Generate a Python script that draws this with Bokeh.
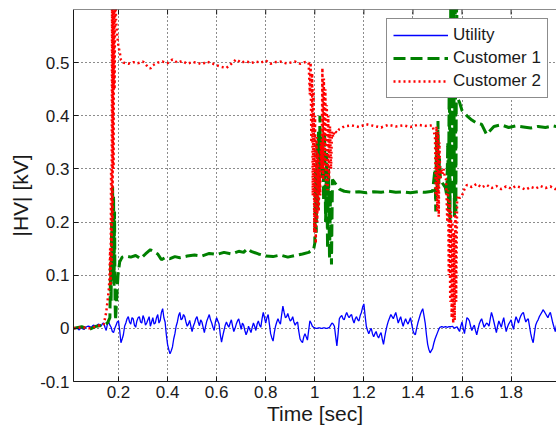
from bokeh.plotting import figure
from bokeh.models import Range1d, FixedTicker, Legend, LegendItem, Span
from bokeh.embed import file_html
from bokeh.resources import INLINE

# ---------------- data ----------------
x_ticks = [0.2, 0.4, 0.6, 0.8, 1.0, 1.2, 1.4, 1.6, 1.8]
y_ticks = [-0.1, 0.0, 0.1, 0.2, 0.3, 0.4, 0.5]
x_tick_labels = {0.2: "0.2", 0.4: "0.4", 0.6: "0.6", 0.8: "0.8", 1.0: "1",
                 1.2: "1.2", 1.4: "1.4", 1.6: "1.6", 1.8: "1.8"}
y_tick_labels = {-0.1: "-0.1", 0.0: "0", 0.1: "0.1", 0.2: "0.2", 0.3: "0.3",
                 0.4: "0.4", 0.5: "0.5"}
series_names = ["Utility", "Customer 1", "Customer 2"]

# Utility: samples on the hundredths of a second (0.02 ... 1.99 s)
utility_t0 = 0.02
utility_dt = 0.01
utility_v = [
    0.000, 0.002, -0.003, 0.001, -0.002, 0.003, 0.004, 0.002, 0.006, 0.004, 0.008, 0.005,
    0.010, -0.004, 0.012, 0.002, -0.008, 0.006, 0.014,
    -0.027, -0.012, 0.010, 0.022, 0.008, 0.018, 0.002, 0.020, 0.012, 0.024,
    0.006, 0.016, 0.004, 0.020, 0.010, 0.026, 0.015, 0.037, 0.012, -0.030,
    -0.048, -0.035, -0.010, 0.012, 0.030, 0.018, 0.022, 0.004, 0.015, -0.006,
    0.010, 0.022, 0.005, 0.012, -0.008, 0.014, 0.026, 0.010, -0.004, 0.020,
    0.008, -0.026, -0.004, 0.012, 0.002, 0.016, -0.006, 0.008, 0.018, -0.002,
    0.006, -0.012, 0.004, -0.008, 0.010, -0.004, 0.014, 0.002, 0.030, 0.010,
    0.026, -0.010, -0.024, 0.004, 0.018, 0.008, 0.042, 0.020, 0.028, 0.014,
    0.022, 0.006, 0.012, -0.020, -0.027, -0.010, -0.022, 0.014, 0.004, 0.001,
    0.000, 0.001, 0.000, 0.001, 0.000, 0.002, 0.010, 0.004, -0.033, 0.018,
    0.024, 0.016, 0.030, 0.020, 0.026, 0.010, 0.022, 0.014, 0.030, 0.046,
    0.004, -0.010, 0.000, -0.016, -0.006, -0.018, -0.008, -0.030, -0.004, 0.014,
    0.026, 0.018, 0.030, 0.010, 0.022, 0.004, 0.018, 0.008, 0.020, -0.004,
    -0.012, 0.010, 0.026, 0.037, 0.010, -0.030, -0.046, -0.038, -0.020, -0.008,
    0.002, 0.003, 0.003, 0.002, 0.003, 0.004, 0.000, 0.003, -0.006, 0.012,
    -0.010, 0.020, 0.014, -0.004, 0.006, -0.012, 0.008, 0.018, 0.002, 0.010,
    0.004, 0.030, 0.012, -0.008, 0.014, 0.002, 0.020, -0.006, 0.008, 0.016,
    -0.002, 0.022, 0.010, 0.024, 0.030, 0.012, 0.018, -0.010, -0.027, 0.006,
    0.016, 0.026, 0.035, 0.028, 0.020, 0.030, 0.010, -0.006, 0.018,
]
# Utility: samples half-way between those above (0.025 ... 1.985 s)
utility_v_mid = [
    0.001, -0.001, 0.000, -0.001, 0.001, 0.004, 0.003, 0.005, 0.003, 0.007, 0.004, 0.009,
    0.002, 0.008, 0.006, -0.006, 0.000, 0.012, -0.004,
    -0.020, 0.004, 0.018, 0.012, 0.020, 0.006, 0.014, 0.022, 0.010, 0.018,
    0.010, 0.022, 0.012, 0.008, 0.020, 0.010, 0.030, 0.020, -0.012, -0.040,
    -0.042, -0.020, 0.004, 0.024, 0.016, 0.026, 0.012, 0.008, 0.004, 0.004,
    0.018, 0.012, 0.016, 0.002, 0.004, 0.020, 0.016, 0.002, 0.012, 0.014,
    -0.012, -0.014, 0.006, 0.006, 0.010, 0.004, 0.000, 0.014, 0.008, 0.010,
    -0.004, -0.006, -0.002, 0.002, 0.004, 0.008, 0.006, 0.018, 0.020, 0.020,
    0.008, -0.018, -0.008, 0.012, 0.012, 0.026, 0.030, 0.022, 0.020, 0.016,
    0.012, 0.010, -0.006, -0.024, -0.016, -0.016, -0.004, 0.010, 0.002, 0.000,
    0.001, 0.000, 0.001, 0.000, 0.001, 0.006, 0.008, -0.015, -0.010, 0.022,
    0.018, 0.024, 0.024, 0.024, 0.016, 0.018, 0.016, 0.024, 0.040, 0.024,
    -0.004, -0.004, -0.010, -0.010, -0.014, -0.012, -0.020, -0.016, 0.006, 0.020,
    0.022, 0.024, 0.020, 0.016, 0.012, 0.012, 0.012, 0.014, 0.008, -0.010,
    0.000, 0.018, 0.032, 0.024, -0.012, -0.040, -0.042, -0.028, -0.014, -0.002,
    0.003, 0.002, 0.003, 0.003, 0.003, 0.002, 0.002, -0.002, 0.004, 0.000,
    0.006, 0.018, 0.004, 0.002, -0.004, -0.002, 0.014, 0.010, 0.006, 0.008,
    0.018, 0.022, 0.002, 0.004, 0.008, 0.012, 0.006, 0.002, 0.012, 0.006,
    0.012, 0.016, 0.018, 0.028, 0.020, 0.016, 0.004, -0.020, -0.010, 0.012,
    0.022, 0.030, 0.032, 0.024, 0.026, 0.020, 0.002, 0.006,
]

customer1_t = [
    0.017, 0.05, 0.08, 0.11, 0.14, 0.155, 0.165, 0.168, 0.170, 0.172, 0.174, 0.176,
    0.178, 0.180, 0.182, 0.184, 0.186, 0.188, 0.192, 0.198, 0.205, 0.215, 0.23, 0.25,
    0.27, 0.29, 0.31, 0.33, 0.345, 0.36, 0.375, 0.39, 0.41, 0.43, 0.45, 0.48,
    0.51, 0.54, 0.57, 0.60, 0.63, 0.66, 0.69, 0.71, 0.725, 0.74, 0.77, 0.80,
    0.83, 0.86, 0.89, 0.92, 0.95, 0.975, 0.995,
    1.000, 1.003, 1.006, 1.009, 1.012, 1.015, 1.018, 1.021, 1.024, 1.027, 1.030, 1.033,
    1.036, 1.040, 1.044, 1.048, 1.052, 1.056, 1.060, 1.064, 1.068, 1.072,
    1.08, 1.09, 1.10, 1.12, 1.15, 1.18, 1.21, 1.24, 1.27, 1.30, 1.33, 1.36,
    1.39, 1.42, 1.45, 1.48,
    1.490, 1.493, 1.496, 1.499, 1.502, 1.505, 1.508, 1.512, 1.518, 1.525, 1.532, 1.538,
    1.542, 1.545, 1.548, 1.551, 1.554, 1.557, 1.560, 1.563, 1.566, 1.569, 1.572, 1.575,
    1.578, 1.581, 1.585, 1.59, 1.60, 1.61, 1.62, 1.64, 1.66, 1.68, 1.70, 1.73,
    1.76, 1.79, 1.82, 1.85, 1.88, 1.91, 1.94, 1.97, 1.99,
]
customer1_v = [
    0.000, 0.003, -0.002, 0.004, 0.006, 0.010, 0.020, 0.120, 0.050, 0.200, 0.100, 0.270,
    0.150, 0.250, 0.080, 0.220, 0.050, 0.015, 0.050, 0.100, 0.125, 0.134, 0.136, 0.134,
    0.137, 0.131, 0.140, 0.148, 0.144, 0.140, 0.129, 0.133, 0.131, 0.135, 0.133, 0.136,
    0.138, 0.136, 0.141, 0.139, 0.143, 0.140, 0.145, 0.143, 0.150, 0.145, 0.140, 0.136,
    0.135, 0.138, 0.134, 0.137, 0.140, 0.143, 0.148,
    0.160, 0.300, 0.180, 0.350, 0.220, 0.370, 0.260, 0.400, 0.300, 0.360, 0.280, 0.340,
    0.240, 0.370, 0.200, 0.330, 0.150, 0.300, 0.130, 0.260, 0.120, 0.280,
    0.275, 0.268, 0.262, 0.258, 0.256, 0.257, 0.255, 0.257, 0.256, 0.258, 0.256, 0.257,
    0.255, 0.257, 0.256, 0.258,
    0.300, 0.220, 0.370, 0.250, 0.390, 0.270, 0.320, 0.280, 0.275, 0.270, 0.265, 0.250,
    0.350, 0.220, 0.500, 0.200, 0.620, 0.250, 0.650, 0.300, 0.620, 0.210, 0.650, 0.220,
    0.640, 0.450, 0.430, 0.425, 0.410, 0.405, 0.400, 0.392, 0.386, 0.384, 0.365, 0.380,
    0.383, 0.378, 0.381, 0.379, 0.377, 0.380, 0.378, 0.381, 0.379,
]

customer2_t = [
    0.017, 0.05, 0.08, 0.11, 0.14, 0.150, 0.155, 0.160, 0.163, 0.166, 0.168, 0.170,
    0.172, 0.174, 0.176, 0.178, 0.180, 0.182, 0.184, 0.187, 0.190, 0.195, 0.200, 0.205,
    0.210, 0.22, 0.24, 0.26, 0.28, 0.30, 0.32, 0.33, 0.34, 0.36, 0.38, 0.40,
    0.42, 0.44, 0.46, 0.48, 0.50, 0.52, 0.54, 0.56, 0.58, 0.60, 0.62, 0.64,
    0.66, 0.68, 0.70, 0.72, 0.74, 0.76, 0.78, 0.80, 0.82, 0.84, 0.86, 0.88,
    0.90, 0.92, 0.94, 0.96, 0.975,
    0.980, 0.983, 0.986, 0.989, 0.992, 0.995, 0.998, 1.001, 1.004, 1.007, 1.010, 1.013,
    1.016, 1.019, 1.022, 1.025, 1.028, 1.031, 1.034, 1.037, 1.040, 1.043, 1.046, 1.049,
    1.052, 1.055, 1.058, 1.062, 1.066, 1.070, 1.075,
    1.08, 1.09, 1.10, 1.12, 1.15, 1.18, 1.21, 1.24, 1.27, 1.30, 1.33, 1.36,
    1.39, 1.42, 1.45, 1.48,
    1.490, 1.493, 1.496, 1.499, 1.502, 1.505, 1.508, 1.511, 1.515, 1.520, 1.525, 1.530,
    1.535, 1.540, 1.543, 1.546, 1.549, 1.552, 1.555, 1.558, 1.561, 1.564, 1.567, 1.570,
    1.573, 1.576, 1.580, 1.585, 1.59, 1.60, 1.61, 1.62, 1.64, 1.66, 1.68, 1.70,
    1.72, 1.74, 1.76, 1.78, 1.80, 1.82, 1.84, 1.86, 1.88, 1.90, 1.92, 1.94,
    1.96, 1.98, 1.99,
]
customer2_v = [
    0.000, 0.002, 0.000, 0.004, 0.008, 0.030, 0.050, 0.070, 0.090, 0.150, 0.080, 0.300,
    0.120, 0.620, 0.200, 0.650, 0.300, 0.650, 0.450, 0.650, 0.580, 0.550, 0.530, 0.520,
    0.505, 0.500, 0.498, 0.501, 0.499, 0.502, 0.492, 0.489, 0.495, 0.500, 0.502, 0.499,
    0.506, 0.500, 0.503, 0.498, 0.501, 0.500, 0.497, 0.502, 0.499, 0.495, 0.492, 0.490,
    0.498, 0.506, 0.500, 0.503, 0.499, 0.502, 0.500, 0.504, 0.498, 0.501, 0.502, 0.499,
    0.500, 0.502, 0.498, 0.501, 0.500,
    0.440, 0.500, 0.350, 0.480, 0.250, 0.450, 0.180, 0.400, 0.160, 0.360, 0.200, 0.330,
    0.220, 0.300, 0.250, 0.350, 0.300, 0.490, 0.280, 0.470, 0.300, 0.450, 0.270, 0.420,
    0.260, 0.400, 0.280, 0.380, 0.300, 0.370, 0.360,
    0.372, 0.368, 0.375, 0.380, 0.382, 0.379, 0.384, 0.381, 0.378, 0.383, 0.380, 0.382,
    0.379, 0.383, 0.381, 0.382,
    0.360, 0.250, 0.380, 0.220, 0.370, 0.210, 0.350, 0.280, 0.300, 0.290, 0.300, 0.285,
    0.280, 0.200, 0.260, 0.100, 0.240, 0.050, 0.220, 0.020, 0.200, 0.010, 0.180, 0.015,
    0.220, 0.050, 0.240, 0.250, 0.245, 0.250, 0.262, 0.270, 0.266, 0.272, 0.265, 0.270,
    0.264, 0.268, 0.262, 0.267, 0.263, 0.268, 0.265, 0.261, 0.266, 0.263, 0.268, 0.264,
    0.267, 0.262, 0.265,
]

# merge the two utility sample sets in time order
utility_t, utility_all = [], []
for i, v in enumerate(utility_v):
    utility_t.append(round(utility_t0 + i * utility_dt, 4))
    utility_all.append(v)
    if i < len(utility_v_mid):
        utility_t.append(round(utility_t0 + (i + 0.5) * utility_dt, 4))
        utility_all.append(utility_v_mid[i])

# ---------------- figure ----------------
FONT = "Liberation Sans"
INK = "#1a1a1a"
Y_TOP = 0.6

p = figure(width=556, height=436, output_backend="svg", toolbar_location=None,
           x_range=Range1d(0.0167, 1.985), y_range=Range1d(-0.1, Y_TOP),
           min_border_left=73, min_border_right=0, min_border_top=9,
           min_border_bottom=55, background_fill_color="white",
           border_fill_color="white")
p.outline_line_color = None

p.xaxis.ticker = FixedTicker(ticks=x_ticks)
p.yaxis.ticker = FixedTicker(ticks=y_ticks)
p.xaxis.major_label_overrides = x_tick_labels
p.yaxis.major_label_overrides = y_tick_labels

for ax in (p.xaxis[0], p.yaxis[0]):
    ax.major_tick_in = 5
    ax.major_tick_out = 0
    ax.minor_tick_in = 0
    ax.minor_tick_out = 0
    ax.axis_line_color = INK
    ax.major_tick_line_color = INK
    ax.major_label_text_font = FONT
    ax.major_label_text_font_size = "17px"
    ax.major_label_text_color = INK
    ax.axis_label_text_font = FONT
    ax.axis_label_text_font_size = "21px"
    ax.axis_label_text_font_style = "normal"
    ax.axis_label_text_color = INK
    ax.major_label_standoff = 4

p.xaxis.axis_label = "Time [sec]"
p.yaxis.axis_label = "|HV| [kV]"
p.xaxis.axis_label_standoff = 1
p.yaxis.axis_label_standoff = 5

p.xgrid.ticker = FixedTicker(ticks=x_ticks)
p.ygrid.ticker = FixedTicker(ticks=y_ticks)
for g in (p.xgrid[0], p.ygrid[0]):
    g.grid_line_color = "black"
    g.grid_line_dash = "1 3"
    g.grid_line_width = 1
    g.grid_line_alpha = 0.9

r_u = p.line(utility_t, utility_all, line_color="#0000ff", line_width=1.3)
r_c1 = p.line(customer1_t, customer1_v, line_color="#008000", line_width=3,
              line_dash="12 5")
r_c2 = p.line(customer2_t, customer2_v, line_color="#ff0000", line_width=2.5,
              line_dash="2 3")

# top border of the box with inward ticks (MATLAB style)
p.add_layout(Span(location=Y_TOP, dimension="width", line_color=INK, line_width=1))
tick_len = 0.7 / 372 * 5
p.segment(x0=x_ticks, y0=[Y_TOP] * len(x_ticks), x1=x_ticks,
          y1=[Y_TOP - tick_len] * len(x_ticks), line_color=INK, line_width=1)

legend = Legend(items=[LegendItem(label=series_names[0], renderers=[r_u]),
                       LegendItem(label=series_names[1], renderers=[r_c1]),
                       LegendItem(label=series_names[2], renderers=[r_c2])],
                location=(313, 283), orientation="vertical",
                glyph_width=55, glyph_height=20, label_height=20,
                label_standoff=5, padding=6, spacing=3, margin=0,
                label_text_font=FONT, label_text_font_size="17px",
                label_text_color=INK, border_line_color=INK, border_line_width=1,
                background_fill_color="white", background_fill_alpha=1.0)
p.add_layout(legend)

open("out.html", "w").write(file_html(p, INLINE))
